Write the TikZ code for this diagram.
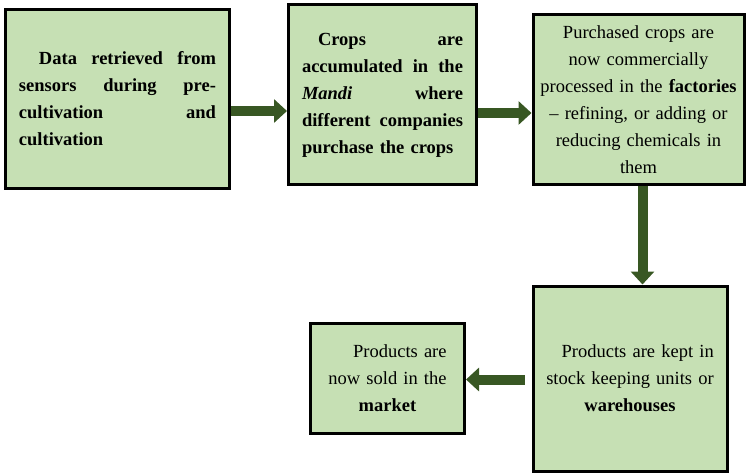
\documentclass[tikz,border=0pt]{standalone}
\usepackage{fontspec}
\usepackage{calc}
\setmainfont{Liberation Serif}
\usetikzlibrary{arrows.meta}
\definecolor{boxgreen}{HTML}{C6E0B4}
\definecolor{arrowgreen}{HTML}{385723}
\newcommand{\jl}[1]{\makebox[\linewidth][l]{#1}}
\newcommand{\rightto}[2]{\makebox[\widthof{#1}][r]{#2}}
\tikzset{
  stage/.style={draw=black, line width=3pt, fill=boxgreen, inner sep=0pt,
    font=\fontsize{18.5}{27}\selectfont},
  flow/.style={draw=arrowgreen, line width=10pt,
    -{Triangle[length=13pt, width=23pt]}},
}
\begin{document}
\begin{tikzpicture}[x=1pt, y=-1pt]
\useasboundingbox (0,0) rectangle (747,473);

% stage boxes (corners given in picture units, y grows downward)
\node[stage, minimum width=224pt, minimum height=179pt, text width=197pt, align=left]
  (data) at (117.5,99) {\bfseries
    \jl{\hspace*{20pt}Data\hfill retrieved\hfill from}\\
    \jl{sensors\hfill during\hfill pre-}\\
    \jl{cultivation\hfill and}\\
    \jl{cultivation}};

\node[stage, minimum width=188pt, minimum height=180pt, text width=161pt, align=left]
  (mandi) at (382.5,95) {\bfseries
    \jl{\hspace*{16pt}Crops\hfill are}\\
    \jl{accumulated\hfill in\hfill the}\\
    \jl{\textit{Mandi}\hfill where}\\
    \jl{different\hfill companies}\\
    \jl{purchase the crops}};

\node[stage, minimum width=211pt, minimum height=170pt, text width=205pt, align=center]
  (factory) at (638.5,100) {%
    Purchased crops are\\
    now commercially\\
    processed in the \textbf{factories}\\
    – refining, or adding or\\
    reducing chemicals in\\
    them};

\node[stage, minimum width=194pt, minimum height=185pt, text width=190pt, align=center]
  (store) at (630,378.5) {%
    \rightto{stock keeping units or}{Products are kept in}\\
    stock keeping units or\\
    \textbf{warehouses}};

\node[stage, minimum width=154pt, minimum height=110pt, text width=150pt, align=center]
  (market) at (387.5,378) {%
    \rightto{now sold in the}{Products are}\\
    now sold in the\\
    \textbf{market}};

% flow arrows between the stages
\draw[flow] (data.east |- 0,111) -- (mandi.west |- 0,111);
\draw[flow] (mandi.east |- 0,113) -- (factory.west |- 0,113);
\draw[flow] (factory.south -| 642.5,0) -- (store.north -| 642.5,0);
\draw[flow, shorten <=7pt] (store.west |- 0,379.5) -- (market.east |- 0,379.5);
\end{tikzpicture}
\end{document}
